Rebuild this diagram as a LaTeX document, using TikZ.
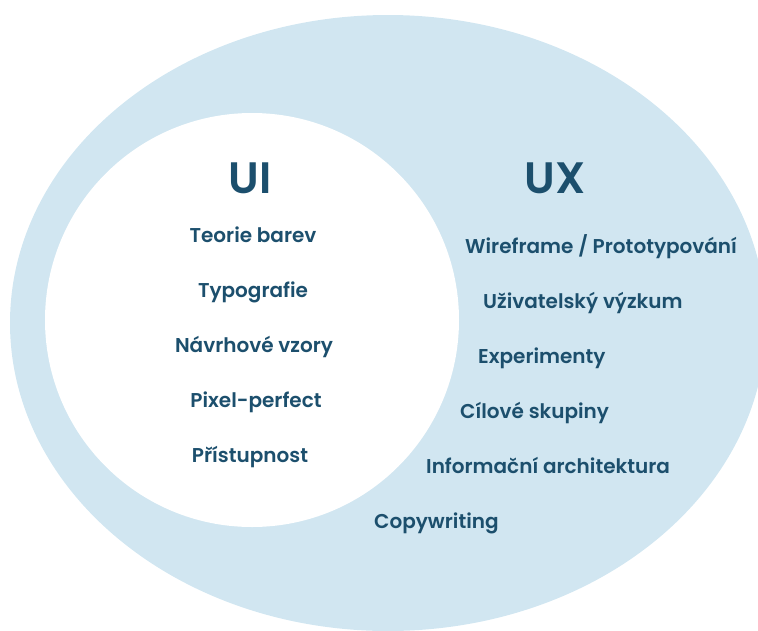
\documentclass[tikz,border=0pt]{standalone}
\usepackage{fontspec}
\setmainfont{Poppins}[BoldFont={Poppins SemiBold}]
\definecolor{ringblue}{HTML}{D1E6F1}
\definecolor{labelblue}{HTML}{1C4F6D}

\begin{document}
\begin{tikzpicture}[x=1pt,y=-1pt,
  title/.style={text=labelblue,inner sep=0pt,font=\fontsize{44}{50}\selectfont\bfseries},
  item/.style={text=labelblue,inner sep=0pt,font=\fontsize{20}{24}\selectfont\bfseries}]
\useasboundingbox (0,0) rectangle (758,630);
\clip (0,0) rectangle (758,630);
\fill[ringblue] (388,323) ellipse [x radius=378,y radius=308];
\fill[white] (252,320) circle [radius=207];

\node[title,anchor=base] (ui) at (250,193) {UI};
\node[title,anchor=base] (ux) at (555,193) {UX};

\node[item,anchor=base] (0) at (253,242) {Teorie barev};
\node[item,anchor=base] (1) at (253,297) {Typografie};
\node[item,anchor=base] (2) at (254,352) {Návrhové vzory};
\node[item,anchor=base] (3) at (256,407) {Pixel-perfect};
\node[item,anchor=base] (4) at (250,462) {Přístupnost};

\node[item,anchor=base west] (5) at (465,253) {Wireframe / Prototypování};
\node[item,anchor=base west] (6) at (483,308) {Uživatelský výzkum};
\node[item,anchor=base west] (7) at (478,363) {Experimenty};
\node[item,anchor=base west] (8) at (460,418) {Cílové skupiny};
\node[item,anchor=base west] (9) at (426,473) {Informační architektura};
\node[item,anchor=base west] (10) at (374,528) {Copywriting};
\end{tikzpicture}
\end{document}
